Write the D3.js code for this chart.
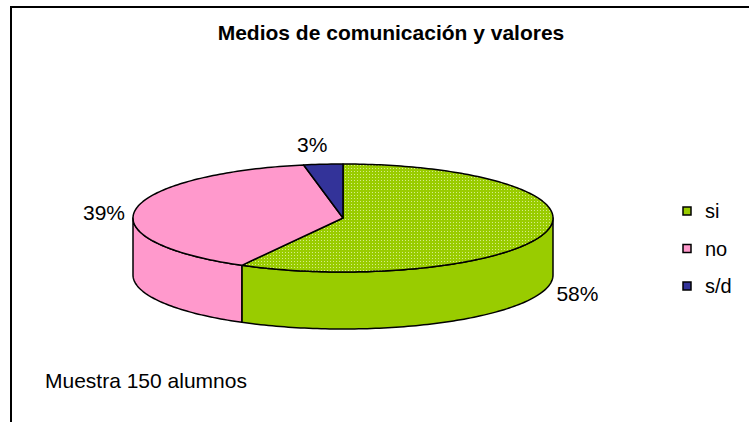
<!DOCTYPE html>
<meta charset="utf-8">
<script src="https://d3js.org/d3.v7.min.js"></script>
<style>
  body { margin: 0; background: #fff; }
  text { font-family: "Liberation Sans", Arial, sans-serif; fill: #000; }
</style>
<div id="chart"></div>
<script>
// data
var categories = ["si", "no", "s/d"];
var values = [58, 39, 3];
var colors = ["#99cc00", "#ff99cc", "#333399"];
var title = "Medios de comunicación y valores";
var note = "Muestra 150 alumnos";

var W = 749, H = 422;
var svg = d3.select("#chart").append("svg")
  .attr("width", W).attr("height", H);

// pattern for the green top face
var defs = svg.append("defs");
var pat = defs.append("pattern")
  .attr("id", "dots").attr("patternUnits", "userSpaceOnUse")
  .attr("width", 3).attr("height", 3);
pat.append("rect").attr("width", 3).attr("height", 3).attr("fill", "#99cc00");
pat.append("rect").attr("width", 1).attr("height", 1).attr("fill", "#d6eb8a");

// frame
svg.append("rect")
  .attr("x", 11).attr("y", 7).attr("width", W + 10).attr("height", H + 10)
  .attr("fill", "none").attr("stroke", "#000").attr("stroke-width", 2);

svg.append("text")
  .attr("x", 391).attr("y", 40)
  .attr("text-anchor", "middle")
  .style("font-size", "21px").style("font-weight", "bold")
  .text(title);

// 3d pie geometry
var cx = 343, cy = 218, rx = 210, ry = 54, depth = 57;
var pie = d3.pie().sort(null).startAngle(0).endAngle(2 * Math.PI);
var arcs = pie(values);

var px = function(a) { return cx + rx * Math.sin(a); };
var py = function(a) { return cy - ry * Math.cos(a); };

function ellipsePts(a0, a1, dy) {
  var n = Math.max(2, Math.ceil((a1 - a0) / 0.02)), pts = [];
  for (var i = 0; i <= n; i++) {
    var a = a0 + (a1 - a0) * i / n;
    pts.push([px(a), py(a) + dy]);
  }
  return pts;
}
var line = d3.line();

var g = svg.append("g");

// side walls (front half only: angles PI/2 .. 3PI/2)
arcs.forEach(function(d, i) {
  var a0 = Math.max(d.startAngle, Math.PI / 2);
  var a1 = Math.min(d.endAngle, 3 * Math.PI / 2);
  if (a1 <= a0) return;
  var top = ellipsePts(a0, a1, 0);
  var bot = ellipsePts(a0, a1, depth).reverse();
  g.append("path")
    .attr("d", line(top.concat(bot)) + "Z")
    .attr("fill", colors[i])
    .attr("stroke", "#000").attr("stroke-width", 1.5)
    .attr("stroke-linejoin", "round");
});

// top faces
arcs.forEach(function(d, i) {
  var pts = [[cx, cy]].concat(ellipsePts(d.startAngle, d.endAngle, 0));
  g.append("path")
    .attr("d", line(pts) + "Z")
    .attr("fill", i === 0 ? "url(#dots)" : colors[i])
    .attr("stroke", "#000").attr("stroke-width", 1.5)
    .attr("stroke-linejoin", "round");
});

// percentage labels
arcs.forEach(function(d, i) {
  var m = (d.startAngle + d.endAngle) / 2;
  var x = cx + (rx + 32) * Math.sin(m) - (i === 2 ? 8 : 0);
  var y = cy - (ry + 20) * Math.cos(m) + (Math.cos(m) < 0 ? depth : 0) + (i === 1 ? 6 : 0);
  svg.append("text")
    .attr("x", x).attr("y", y).attr("dy", "0.35em")
    .attr("text-anchor", "middle")
    .style("font-size", "21px")
    .text(values[i] + "%");
});

// legend
var legend = svg.append("g").attr("transform", "translate(683,207)");
categories.forEach(function(c, i) {
  var row = legend.append("g").attr("transform", "translate(0," + (i * 37.5) + ")");
  row.append("rect").attr("width", 8).attr("height", 8)
    .attr("fill", colors[i]).attr("stroke", "#000").attr("stroke-width", 1.5);
  row.append("text").attr("x", 22).attr("y", 4).attr("dy", "0.35em")
    .style("font-size", "20px").text(c);
});

svg.append("text")
  .attr("x", 45).attr("y", 388)
  .style("font-size", "21px")
  .text(note);
</script>
